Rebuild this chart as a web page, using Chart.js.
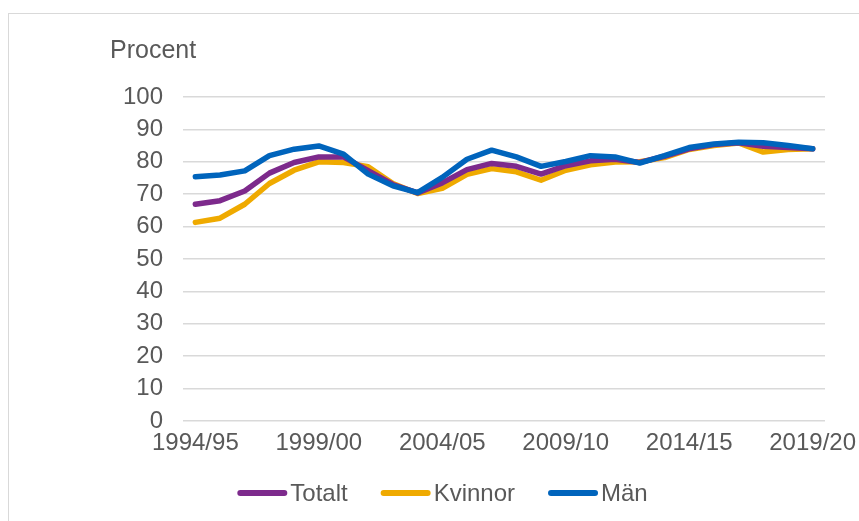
<!DOCTYPE html>
<html>
<head>
<meta charset="utf-8">
<script src="https://cdn.jsdelivr.net/npm/chart.js@4/dist/chart.umd.min.js"></script>
<style>
  body { margin: 0; background: #fff; overflow: hidden; }
  #frame { position: absolute; left: 8px; top: 13px; width: 1000px; height: 1000px; border: 1px solid #d9d9d9; }
  #wrap { position: absolute; left: 0; top: 0; width: 859px; height: 521px; }
</style>
</head>
<body>
<div id="frame"></div>
<div id="wrap"><canvas id="myChart" width="859" height="521"></canvas></div>
<script>
// skolår 1994/95 - 2019/20
const years = ["1994/95","1995/96","1996/97","1997/98","1998/99","1999/00","2000/01","2001/02","2002/03","2003/04",
  "2004/05","2005/06","2006/07","2007/08","2008/09","2009/10","2010/11","2011/12","2012/13","2013/14",
  "2014/15","2015/16","2016/17","2017/18","2018/19","2019/20"];
const totalt  = [66.9, 68.0, 71.0, 76.5, 79.8, 81.5, 81.5, 77.3, 73.0, 70.4, 73.5, 77.6, 79.5, 78.6, 76.2, 78.8, 80.3, 80.8, 79.8, 81.7, 84.0, 85.3, 85.9, 84.8, 84.4, 84.0];
const kvinnor = [61.3, 62.6, 66.9, 73.3, 77.4, 80.0, 79.8, 78.5, 73.3, 70.2, 71.8, 76.1, 77.9, 76.9, 74.3, 77.4, 79.1, 79.9, 80.0, 81.3, 83.8, 85.0, 85.8, 83.0, 83.8, 84.0];
const man     = [75.4, 75.9, 77.2, 81.9, 83.9, 84.9, 82.4, 76.2, 72.6, 70.5, 75.2, 80.8, 83.6, 81.5, 78.6, 80.1, 81.9, 81.5, 79.6, 81.9, 84.4, 85.5, 86.0, 85.9, 85.0, 84.0];
const yTitle = "Procent";

const txt = '#595959';
const fam = "'Liberation Sans', Arial, sans-serif";
const font = { family: fam, size: 24 };

// "Procent" över y-axeln
const procentLabel = {
  id: 'procentLabel',
  afterDraw(chart) {
    const ctx = chart.ctx;
    ctx.save();
    ctx.fillStyle = txt;
    ctx.font = "25px " + fam;
    ctx.fillText(yTitle, 110, 58);
    ctx.restore();
  }
};

// egen legend, linje tätt intill texten som i Excel
const excelLegend = {
  id: 'excelLegend',
  afterDraw(chart) {
    const ctx = chart.ctx;
    const sets = chart.data.datasets;
    const lineLen = 50, gap = 6, spacing = 30;
    ctx.save();
    ctx.font = "24px " + fam;
    const widths = sets.map(d => lineLen + gap + ctx.measureText(d.label).width);
    const total = widths.reduce((a, b) => a + b, 0) + spacing * (sets.length - 1);
    let x = 444 - total / 2;
    const y = 493;
    sets.forEach((d, i) => {
      ctx.strokeStyle = d.borderColor;
      ctx.lineWidth = 6;
      ctx.lineCap = 'round';
      ctx.beginPath();
      ctx.moveTo(x + 3, y);
      ctx.lineTo(x + lineLen - 3, y);
      ctx.stroke();
      ctx.fillStyle = txt;
      ctx.textBaseline = 'middle';
      ctx.fillText(d.label, x + lineLen + gap - 3, y + 1);
      x += widths[i] + spacing;
    });
    ctx.restore();
  }
};

function line(label, data, color, order) {
  return {
    label: label, data: data, borderColor: color, backgroundColor: color,
    borderWidth: 5.5, pointRadius: 0, tension: 0, order: order,
    borderCapStyle: 'round', borderJoinStyle: 'round'
  };
}

const ctx = document.getElementById('myChart');
new Chart(ctx, {
  type: 'line',
  data: {
    labels: years,
    datasets: [
      line('Totalt', totalt, '#7D2A8C', 1),
      line('Kvinnor', kvinnor, '#EFAA00', 2),
      line('Män', man, '#0064BC', 0)
    ]
  },
  plugins: [procentLabel, excelLegend],
  options: {
    responsive: false,
    animation: false,
    layout: { padding: { left: 63, right: 34, top: 97, bottom: 50 } },
    plugins: {
      tooltip: { enabled: false },
      legend: { display: false }
    },
    scales: {
      x: {
        offset: true,
        grid: { display: false },
        border: { display: false },
        afterFit: (s) => { s.height = 50; },
        ticks: {
          color: txt, font: font, padding: 0, autoSkip: false, maxRotation: 0,
          callback: function (v, i) { return i % 5 === 0 ? this.getLabelForValue(v) : ''; }
        }
      },
      y: {
        min: 0, max: 100,
        afterFit: (s) => { s.width = 120; },
        border: { display: false },
        grid: { color: '#d9d9d9', lineWidth: 1.5, drawTicks: false },
        ticks: { stepSize: 10, color: txt, font: font, padding: 20 }
      }
    }
  }
});
</script>
</body>
</html>
